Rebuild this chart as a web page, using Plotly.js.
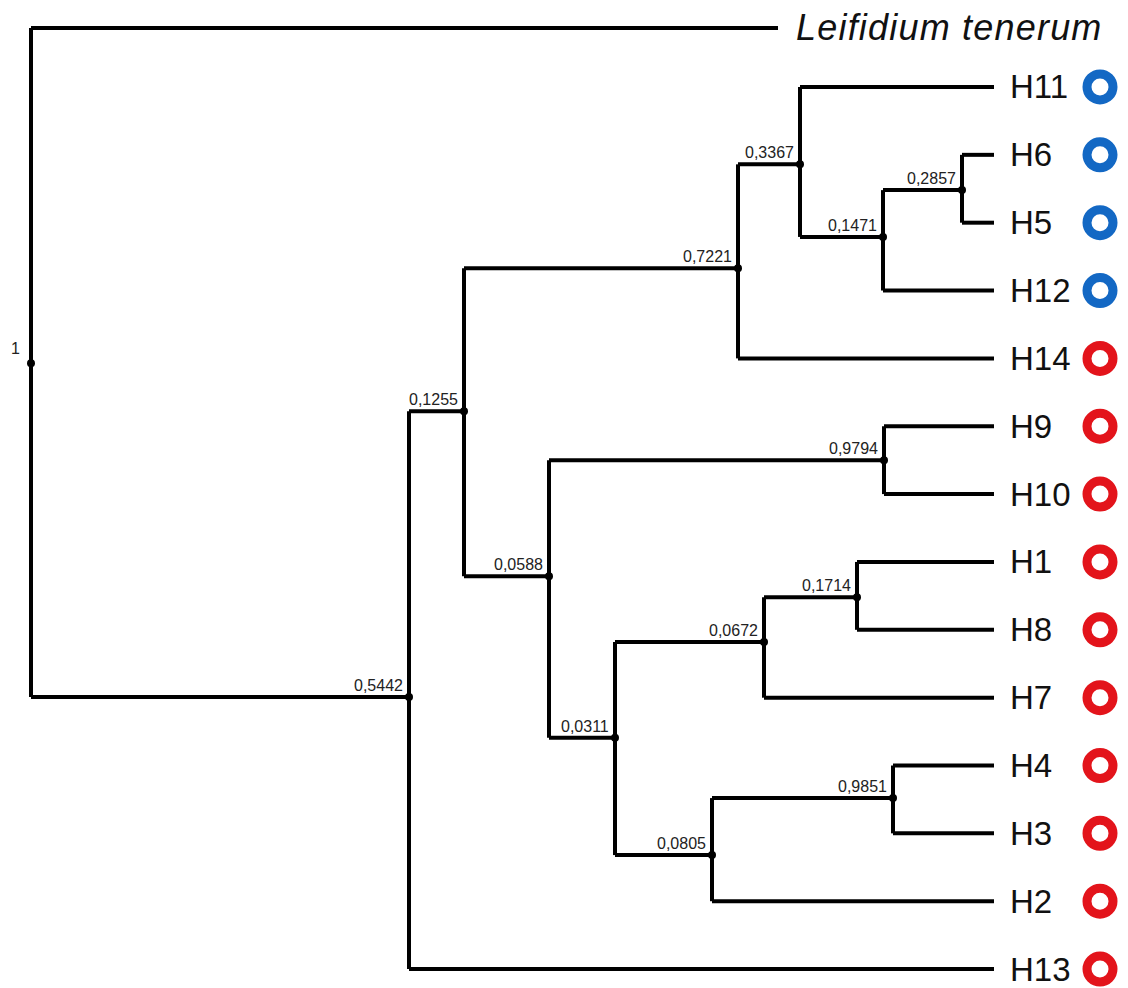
<!DOCTYPE html>
<html>
<head>
<meta charset="utf-8">
<script src="https://cdn.plot.ly/plotly-3.0.1.min.js"></script>
<style>html,body{margin:0;padding:0;background:#fff;}#chart{width:1128px;height:988px;}</style>
</head>
<body>
<div id="chart"></div>
<script>
// ---- Data ----
// Leaves, top to bottom
const leafNames  = ['Leifidium tenerum','H11','H6','H5','H12','H14','H9','H10','H1','H8','H7','H4','H3','H2','H13'];
const leafRows   = [0.13, 1, 2, 3, 4, 5, 6, 7, 8, 9, 10, 11, 12, 13, 14];
const leafDepths = [747, 963, 963, 963, 963, 963, 963, 963, 963, 963, 963, 963, 963, 963, 963];
const leafGroups = ['outgroup','blue','blue','blue','blue','red','red','red','red','red','red','red','red','red','red'];

// Internal nodes (named by their support value)
const nodeSupport = ['1','0,5442','0,1255','0,7221','0,3367','0,1471','0,2857','0,0588','0,9794','0,0311','0,0672','0,1714','0,0805','0,9851'];
const nodeDepths  = [0, 378, 433, 707, 769, 852, 931, 518, 853, 584, 733, 826, 681, 862];
const nodeRows    = [5.07, 9.99, 5.78, 3.67, 2.14, 3.21, 2.52, 8.21, 6.5, 10.59, 9.18, 8.52, 12.32, 11.48];
const nodeChildren = [
  ['Leifidium tenerum','0,5442'],
  ['0,1255','H13'],
  ['0,7221','0,0588'],
  ['0,3367','H14'],
  ['H11','0,1471'],
  ['0,2857','H12'],
  ['H6','H5'],
  ['0,9794','0,0311'],
  ['H9','H10'],
  ['0,0672','0,0805'],
  ['0,1714','H7'],
  ['H1','H8'],
  ['0,9851','H2'],
  ['H4','H3']
];

// ---- Build geometry from data ----
const pos = {};
leafNames.forEach((n,i)=>{ pos[n] = {x: leafDepths[i], y: leafRows[i]}; });
nodeSupport.forEach((n,i)=>{ pos[n] = {x: nodeDepths[i], y: nodeRows[i]}; });

const lx = [], ly = [];
nodeSupport.forEach((n,i)=>{
  const p = pos[n];
  const kids = nodeChildren[i].map(c=>pos[c]);
  const ys = kids.map(k=>k.y);
  lx.push(p.x, p.x, null); ly.push(Math.min(...ys), Math.max(...ys), null);
  kids.forEach(k=>{ lx.push(p.x, k.x, null); ly.push(k.y, k.y, null); });
});

const colorMap = {blue:'#1368c4', red:'#e3141b'};
const markerOffset = 106;
const hx = [], hy = [], hc = [];
leafNames.forEach((n,i)=>{
  if (leafGroups[i] === 'outgroup') return;
  hx.push(leafDepths[i] + markerOffset); hy.push(leafRows[i]); hc.push(colorMap[leafGroups[i]]);
});

const traces = [
  {x: lx, y: ly, mode: 'lines', line: {color: '#000', width: 4}, hoverinfo: 'skip', showlegend: false},
  {x: nodeDepths, y: nodeRows, mode: 'markers', marker: {color: '#000', size: 8}, hoverinfo: 'skip', showlegend: false},
  {x: hx, y: hy, mode: 'markers', marker: {symbol: 'circle-open', size: 26, color: hc, line: {width: 9}}, hoverinfo: 'skip', showlegend: false}
];

const annotations = [];
nodeSupport.forEach((n,i)=>{
  annotations.push({
    x: nodeDepths[i], y: nodeRows[i], text: n, showarrow: false,
    xanchor: 'right', yanchor: 'bottom', xshift: i === 0 ? -9 : -4, yshift: i === 0 ? 4 : 1,
    font: {family: 'Liberation Sans, Arial, sans-serif', size: 16, color: '#222'}
  });
});
leafNames.forEach((n,i)=>{
  const out = leafGroups[i] === 'outgroup';
  annotations.push({
    x: leafDepths[i], y: leafRows[i],
    text: out ? '<span style="letter-spacing:1.2px"><i>' + n + '</i></span>' : n,
    showarrow: false,
    xanchor: 'left', yanchor: 'middle', xshift: out ? 16 : 14, yshift: 0,
    font: {family: 'Liberation Sans, Arial, sans-serif', size: out ? 36 : 33, color: '#111'}
  });
});

const layout = {
  width: 1128, height: 988,
  margin: {l: 0, r: 0, t: 0, b: 0},
  paper_bgcolor: '#fff', plot_bgcolor: '#fff',
  xaxis: {range: [-31, 1097], visible: false, fixedrange: true},
  yaxis: {range: [14.279, -0.282], visible: false, fixedrange: true},
  annotations: annotations,
  showlegend: false
};

Plotly.newPlot('chart', traces, layout, {staticPlot: true});
</script>
</body>
</html>
